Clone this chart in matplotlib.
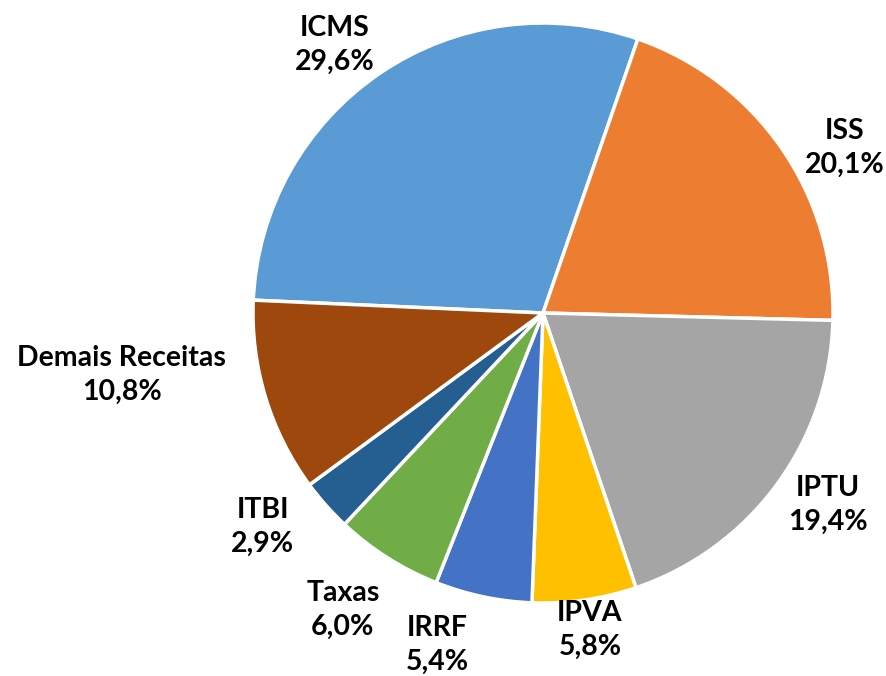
import matplotlib
matplotlib.use('Agg')
import matplotlib.pyplot as plt
import numpy as np

categories = ['ICMS', 'ISS', 'IPTU', 'IPVA', 'IRRF', 'Taxas', 'ITBI', 'Demais Receitas']
shares = [29.6, 20.1, 19.4, 5.8, 5.4, 6.0, 2.9, 10.8]
pct_labels = ['29,6%', '20,1%', '19,4%', '5,8%', '5,4%', '6,0%', '2,9%', '10,8%']

colors = ['#5B9BD5', '#ED7D31', '#A5A5A5', '#FFC000', '#4472C4',
          '#70AD47', '#255E91', '#9E480E']

# label centres, in pie radius units relative to the centre
label_pos = [(-0.717, 0.924), (1.041, 0.569), (0.983, -0.662), (0.162, -1.093),
             (-0.366, -1.145), (-0.690, -1.024), (-0.966, -0.738), (-1.452, -0.214)]

fig = plt.figure(figsize=(8.87, 6.76), dpi=100)
ax = fig.add_axes([0, 0, 1, 1])

# start at ICMS so that ISS begins ~19 deg clockwise from the top
start = 90 - 19.1 + shares[0] / 100.0 * 360
ax.pie(shares, colors=colors, startangle=start, counterclock=False,
       radius=1.0, center=(0, 0),
       wedgeprops=dict(edgecolor='white', linewidth=2.5))

for name, pct, (x, y) in zip(categories, pct_labels, label_pos):
    ax.text(x, y, name + '\n' + pct, ha='center', va='center',
            fontsize=20.5, fontweight='bold', family='Lato',
            linespacing=1.38, color='black')

ax.set_xlim(-543 / 290.0, (887 - 543) / 290.0)
ax.set_ylim(-(676 - 313) / 290.0, 313 / 290.0)
ax.set_aspect('auto')
ax.axis('off')

fig.savefig('out.png', dpi=100)
